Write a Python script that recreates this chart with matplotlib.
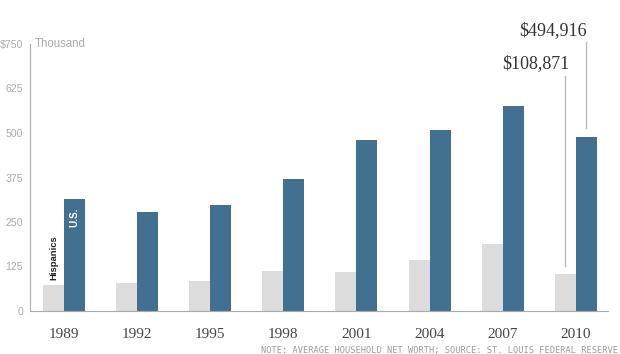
import matplotlib
matplotlib.use('Agg')
import matplotlib.pyplot as plt
import numpy as np

years = ['1989', '1992', '1995', '1998', '2001', '2004', '2007', '2010']
hispanics = [73, 79, 84, 112, 110, 143, 188, 104]
us = [315, 278, 298, 371, 480, 508, 576, 488]
yticks = [0, 125, 250, 375, 500, 625, 750]
ytick_labels = ['0', '125', '250', '375', '500', '625', '$750']

gray = '#dcdcdc'
blue = '#427090'
axis_col = '#aaaaaa'
sans = 'Liberation Sans'

fig = plt.figure(figsize=(6.2, 3.54), dpi=100)
ax = fig.add_axes([30/620, 43/354, 578/620, 267/354])

x = np.arange(len(years))
w = 0.287
ax.bar(x - w/2, hispanics, w, color=gray)
ax.bar(x + w/2, us, w, color=blue)

ax.set_xlim(-0.465, 7.44)
ax.set_ylim(0, 750)

for s in ['top', 'right']:
    ax.spines[s].set_visible(False)
ax.spines['left'].set_color(axis_col)
ax.spines['bottom'].set_color(axis_col)

ax.set_yticks(yticks)
ax.set_yticklabels(ytick_labels, family=sans, fontsize=7.6, color=axis_col)
ax.set_yticks([750], minor=True)
ax.tick_params(axis='y', which='major', length=0, pad=5)
ax.tick_params(axis='y', which='minor', length=5, direction='inout', color=axis_col)

ax.set_xticks(x)
ax.set_xticklabels(years, family='Liberation Serif', fontsize=11, color='#444444')
ax.tick_params(axis='x', length=0, pad=12)

ax.text(5/578, 750, 'Thousand', transform=ax.get_yaxis_transform(),
        family=sans, fontsize=8.3, color=axis_col, va='center', ha='left')

# in-bar labels
ax.text(x[0] + w/2, us[0] - 25, 'U.S.', rotation=90, color='white',
        family=sans, fontsize=7.2, fontweight='bold', ha='center', va='top')
ax.text(x[0] - w/2, hispanics[0] + 15, 'Hispanics', rotation=90, color='#222222',
        family=sans, fontsize=6.8, fontweight='bold', ha='center', va='bottom')

# leader lines and callouts for 2010
ax.plot([x[7] - w/2, x[7] - w/2], [126, 660], color='#bbbbbb', lw=1, clip_on=False)
ax.plot([x[7] + w/2, x[7] + w/2], [514, 755], color='#bbbbbb', lw=1, clip_on=False)
ax.text(6.908, 694, '$108,871', family='Liberation Serif', fontsize=13,
        color='#333333', ha='right', va='center', clip_on=False)
ax.text(7.155, 789, '$494,916', family='Liberation Serif', fontsize=13,
        color='#333333', ha='right', va='center', clip_on=False)

fig.text(618/620, 1 - 351/354, 'NOTE: AVERAGE HOUSEHOLD NET WORTH; SOURCE: ST. LOUIS FEDERAL RESERVE',
         family='DejaVu Sans Mono', fontsize=6.2, color='#999999', ha='right', va='center')

fig.savefig('out.png', dpi=100)
